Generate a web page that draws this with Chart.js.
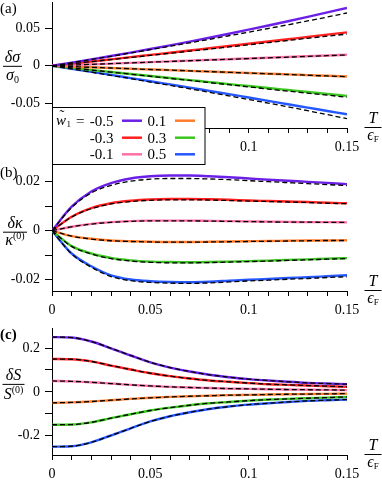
<!DOCTYPE html>
<html>
<head>
<meta charset="utf-8">
<script src="https://cdn.jsdelivr.net/npm/chart.js@4.4.1/dist/chart.umd.min.js"></script>
<style>
  html, body { margin: 0; padding: 0; background: #fff; }
  #wrap { position: relative; width: 382px; height: 481px; overflow: hidden; }
  canvas { position: absolute; left: 0; }
</style>
</head>
<body>
<div id="wrap">
  <canvas id="panelA" width="382" height="170" style="top:0; z-index:3"></canvas>
  <canvas id="panelB" width="382" height="160" style="top:160px; z-index:2"></canvas>
  <canvas id="panelC" width="382" height="161" style="top:320px; z-index:1"></canvas>
</div>
<script>
// temperature T/eF
const temps = [0, 0.01, 0.02, 0.03, 0.04, 0.05, 0.06, 0.07, 0.08, 0.09, 0.1, 0.11, 0.12, 0.13, 0.14, 0.15];
const couplings = ['-0.5', '-0.3', '-0.1', '0.1', '0.3', '0.5'];
const lineColors = ['#6c1fe6', '#ff2020', '#ff70a8', '#ff7d2c', '#3cc620', '#2457ff'];

// (a) d sigma / sigma0 : full (solid) and approx (dashed)
const sigma_m05 = [0, 0.0042, 0.0086, 0.0131, 0.0177, 0.0225, 0.0274, 0.0324, 0.0376, 0.0429, 0.0484, 0.054, 0.0597, 0.0655, 0.0715, 0.0776];
const sigma_m03 = [0, 0.0029, 0.0058, 0.0087, 0.0116, 0.0146, 0.0175, 0.0205, 0.0235, 0.0265, 0.0295, 0.0325, 0.0356, 0.0387, 0.0418, 0.0448];
const sigma_m01 = [0, 0.001, 0.002, 0.003, 0.004, 0.0049, 0.0059, 0.0069, 0.0079, 0.0089, 0.0099, 0.0109, 0.0119, 0.0129, 0.0139, 0.0148];
const sigma_p01 = [0, -0.001, -0.002, -0.003, -0.0039, -0.0049, -0.0058, -0.0068, -0.0077, -0.0087, -0.0096, -0.0106, -0.0115, -0.0125, -0.0134, -0.0144];
const sigma_p03 = [0, -0.0028, -0.0056, -0.0083, -0.011, -0.0137, -0.0164, -0.0191, -0.0218, -0.0245, -0.0271, -0.0298, -0.0324, -0.035, -0.0377, -0.0403];
const sigma_p05 = [0, -0.004, -0.0081, -0.0122, -0.0164, -0.0206, -0.0249, -0.0292, -0.0336, -0.038, -0.0425, -0.047, -0.0515, -0.056, -0.0605, -0.065];
const sigmaApx_m05 = [0, 0.0042, 0.0085, 0.0128, 0.0172, 0.0217, 0.0262, 0.0308, 0.0355, 0.0403, 0.0451, 0.05, 0.055, 0.0601, 0.0654, 0.0708];
const sigmaApx_m03 = [0, 0.0028, 0.0056, 0.0084, 0.0112, 0.014, 0.0168, 0.0196, 0.0224, 0.0253, 0.0282, 0.0311, 0.034, 0.0369, 0.0397, 0.0425];
const sigmaApx_m01 = [0, 0.001, 0.002, 0.0029, 0.0039, 0.0049, 0.0058, 0.0068, 0.0078, 0.0087, 0.0097, 0.0107, 0.0116, 0.0126, 0.0136, 0.0145];
const sigmaApx_p01 = [0, -0.001, -0.002, -0.0029, -0.0039, -0.0049, -0.0058, -0.0068, -0.0078, -0.0087, -0.0097, -0.0107, -0.0116, -0.0126, -0.0136, -0.0145];
const sigmaApx_p03 = [0, -0.0028, -0.0056, -0.0084, -0.0112, -0.014, -0.0168, -0.0196, -0.0224, -0.0253, -0.0282, -0.0311, -0.034, -0.0366, -0.0393, -0.042];
const sigmaApx_p05 = [0, -0.0042, -0.0085, -0.0128, -0.0172, -0.0217, -0.0262, -0.0308, -0.0355, -0.0403, -0.0451, -0.05, -0.055, -0.0601, -0.0654, -0.0708];

// (b) d kappa / kappa0
const kappa_m05 = [0, 0.0098, 0.016, 0.0194, 0.0213, 0.0222, 0.0225, 0.0225, 0.0222, 0.0218, 0.0213, 0.0208, 0.0204, 0.0199, 0.0195, 0.019];
const kappa_m03 = [0, 0.0057, 0.0092, 0.0112, 0.0122, 0.0127, 0.0129, 0.0129, 0.0128, 0.0126, 0.0123, 0.0121, 0.0119, 0.0117, 0.0114, 0.0112];
const kappa_m01 = [0, 0.0016, 0.0028, 0.0035, 0.0039, 0.0041, 0.0041, 0.0041, 0.004, 0.0039, 0.0038, 0.0037, 0.0036, 0.0035, 0.0035, 0.0034];
const kappa_p01 = [0, -0.0022, -0.0033, -0.004, -0.0043, -0.0045, -0.0046, -0.0046, -0.0045, -0.0044, -0.0043, -0.0042, -0.0041, -0.004, -0.004, -0.0039];
const kappa_p03 = [0, -0.0063, -0.0093, -0.0111, -0.0121, -0.0126, -0.0128, -0.0129, -0.0128, -0.0126, -0.0124, -0.0122, -0.0119, -0.0117, -0.0114, -0.0112];
const kappa_p05 = [0, -0.0093, -0.0145, -0.0182, -0.0199, -0.0206, -0.0209, -0.021, -0.0208, -0.0204, -0.02, -0.0197, -0.0193, -0.019, -0.0186, -0.0182];
const kappaApx_m05 = [0, 0.0095, 0.0154, 0.0185, 0.0202, 0.021, 0.0213, 0.0213, 0.0211, 0.0208, 0.0204, 0.02, 0.0196, 0.0192, 0.0188, 0.0184];
const kappaApx_m03 = [0, 0.0056, 0.009, 0.0109, 0.0119, 0.0124, 0.0126, 0.0126, 0.0125, 0.0123, 0.0121, 0.0119, 0.0117, 0.0115, 0.0112, 0.011];
const kappaApx_m01 = [0, 0.0016, 0.0027, 0.0034, 0.0038, 0.004, 0.004, 0.004, 0.0039, 0.0038, 0.0037, 0.0036, 0.0035, 0.0035, 0.0034, 0.0034];
const kappaApx_p01 = [0, -0.0022, -0.0034, -0.0041, -0.0044, -0.0046, -0.0047, -0.0047, -0.0046, -0.0045, -0.0044, -0.0043, -0.0042, -0.0041, -0.004, -0.004];
const kappaApx_p03 = [0, -0.0064, -0.0095, -0.0114, -0.0124, -0.0129, -0.0131, -0.0131, -0.013, -0.0128, -0.0126, -0.0124, -0.0121, -0.0119, -0.0116, -0.0114];
const kappaApx_p05 = [0, -0.0095, -0.0149, -0.0187, -0.0204, -0.0211, -0.0214, -0.0215, -0.0213, -0.0209, -0.0205, -0.0202, -0.0198, -0.0195, -0.0191, -0.0188];

// (c) dS / S0 (approximation lies on top of the full curves)
const seebeck_m05 = [0.25, 0.248, 0.23, 0.199, 0.166, 0.135, 0.111, 0.093, 0.078, 0.067, 0.058, 0.052, 0.046, 0.041, 0.038, 0.035];
const seebeck_m03 = [0.15, 0.149, 0.139, 0.12, 0.102, 0.085, 0.072, 0.061, 0.052, 0.046, 0.04, 0.035, 0.032, 0.029, 0.026, 0.023];
const seebeck_m01 = [0.05, 0.048, 0.044, 0.038, 0.032, 0.027, 0.023, 0.02, 0.0175, 0.015, 0.0137, 0.012, 0.0107, 0.0099, 0.009, 0.008];
const seebeck_p01 = [-0.05, -0.048, -0.044, -0.038, -0.032, -0.027, -0.023, -0.02, -0.0175, -0.015, -0.0137, -0.012, -0.0107, -0.0099, -0.009, -0.008];
const seebeck_p03 = [-0.15, -0.149, -0.139, -0.12, -0.102, -0.085, -0.072, -0.061, -0.052, -0.046, -0.04, -0.035, -0.032, -0.029, -0.026, -0.023];
const seebeck_p05 = [-0.25, -0.248, -0.23, -0.199, -0.166, -0.135, -0.111, -0.093, -0.078, -0.067, -0.058, -0.052, -0.046, -0.041, -0.038, -0.035];

const serif = '"Liberation Serif", "Times New Roman", serif';
const it16 = 'italic 16px ' + serif;

function makeDatasets(solid, dashed) {
  const sets = [];
  solid.forEach((vals, i) => sets.push({
    data: temps.map((t, k) => ({ x: t, y: vals[k] })),
    borderColor: lineColors[i], borderWidth: 2.4, order: 2
  }));
  dashed.forEach(vals => sets.push({
    data: temps.map((t, k) => ({ x: t, y: vals[k] })),
    borderColor: '#000', borderWidth: 1.3, borderDash: [5, 3], order: 1
  }));
  return sets;
}

// draw pieces of text side by side, centred on cx
function drawRun(ctx, parts, cx, baseY) {
  let w = 0;
  parts.forEach(p => { ctx.font = p.font; p.w = ctx.measureText(p.text).width; w += p.w; });
  let x = cx - w / 2;
  parts.forEach(p => { ctx.font = p.font; ctx.fillText(p.text, x, baseY + (p.dy || 0)); x += p.w; });
}

function drawFrac(ctx, cx, lineY, halfW, num, den, numBase, denBase) {
  ctx.save();
  ctx.fillStyle = '#000';
  ctx.textAlign = 'left';
  ctx.textBaseline = 'alphabetic';
  drawRun(ctx, num, cx, lineY + numBase);
  drawRun(ctx, den, cx, lineY + denBase);
  ctx.strokeStyle = '#000';
  ctx.lineWidth = 1;
  ctx.beginPath();
  ctx.moveTo(cx - halfW, lineY + 0.5);
  ctx.lineTo(cx + halfW, lineY + 0.5);
  ctx.stroke();
  ctx.restore();
}

function drawXTitle(chart) {
  const ctx = chart.ctx;
  const y = chart.chartArea.bottom;
  drawFrac(ctx, 373, y - 1, 8.5,
    [{ text: 'T', font: it16 }],
    [{ text: 'ϵ', font: it16 }, { text: 'F', font: '9px ' + serif, dy: 2 }], -4, 13);
}

function drawPanelTag(ctx, text, y, bold) {
  ctx.save();
  ctx.fillStyle = '#000';
  ctx.font = (bold ? 'bold ' : '') + '15px ' + serif;
  ctx.textAlign = 'left';
  ctx.textBaseline = 'alphabetic';
  ctx.fillText(text, 0, y);
  ctx.restore();
}

function drawLegend(ctx) {
  ctx.save();
  ctx.fillStyle = '#fff';
  ctx.fillRect(52.5, 107.5, 152.5, 57);
  ctx.strokeStyle = '#000';
  ctx.lineWidth = 1;
  ctx.strokeRect(52.5, 107.5, 152.5, 57);
  const rows = [120.7, 137.7, 154.3];
  ctx.fillStyle = '#000';
  ctx.textBaseline = 'alphabetic';
  // w~_1 =
  ctx.font = 'italic 15px ' + serif;
  ctx.textAlign = 'left';
  ctx.fillText('w', 56, rows[0] + 4);
  ctx.font = '15px ' + serif;
  ctx.textAlign = 'center';
  ctx.fillText('˜', 62, rows[0] - 0.5);
  ctx.textAlign = 'left';
  ctx.font = '9px ' + serif;
  ctx.fillText('1', 66.5, rows[0] + 6);
  ctx.font = '15px ' + serif;
  ctx.fillText('=', 76, rows[0] + 5);
  couplings.forEach((c, i) => {
    const col = Math.floor(i / 3), r = i % 3;
    const y = rows[r];
    ctx.fillStyle = '#000';
    ctx.font = '15px ' + serif;
    if (col === 0) { ctx.textAlign = 'right'; ctx.fillText(c, 113.5, y + 5); }
    else { ctx.textAlign = 'left'; ctx.fillText(c, 147.5, y + 5); }
    const x0 = col === 0 ? 122 : 175;
    ctx.strokeStyle = lineColors[i];
    ctx.lineWidth = 2.5;
    ctx.beginPath();
    ctx.moveTo(x0, y);
    ctx.lineTo(x0 + 20, y);
    ctx.stroke();
  });
  ctx.restore();
}

function tickFont() { return { family: serif, size: 14 }; }

function makeOptions(yMin, yMax, yStep, yLabel, topPad, xAxisHeight, xFirstLabel) {
  return {
    responsive: false,
    animation: false,
    devicePixelRatio: 1,
    layout: { padding: { top: topPad, right: 35, left: 0, bottom: 0 } },
    elements: {
      point: { radius: 0 },
      line: { cubicInterpolationMode: 'monotone', fill: false }
    },
    plugins: { legend: { display: false }, tooltip: { enabled: false } },
    scales: {
      x: {
        type: 'linear', min: 0, max: 0.15,
        border: { display: true, color: '#000', width: 1 },
        grid: { drawOnChartArea: false, drawTicks: true, tickLength: 5, tickColor: '#000' },
        ticks: {
          stepSize: 0.01, autoSkip: false, maxRotation: 0, includeBounds: false,
          padding: 6, color: '#000', font: tickFont(),
          callback: v => {
            const k = Math.round(v * 100);
            return (k % 5 === 0 && k >= xFirstLabel) ? String(k / 100) : '';
          }
        },
        afterFit: s => { s.height = xAxisHeight; s.paddingLeft = 0; s.paddingRight = 0; }
      },
      y: {
        type: 'linear', min: yMin, max: yMax,
        border: { display: true, color: '#000', width: 1 },
        grid: { drawOnChartArea: false, drawTicks: true, tickLength: 7, tickColor: '#000' },
        ticks: {
          stepSize: yStep, autoSkip: false, includeBounds: false,
          padding: 5, color: '#000', font: tickFont(), callback: yLabel
        },
        afterFit: s => { s.width = 52; s.paddingTop = 0; s.paddingBottom = 0; }
      }
    }
  };
}

// panel (a); the legend hides the first x labels
new Chart(document.getElementById('panelA'), {
  type: 'line',
  data: {
    datasets: makeDatasets(
      [sigma_m05, sigma_m03, sigma_m01, sigma_p01, sigma_p03, sigma_p05],
      [sigmaApx_m05, sigmaApx_m03, sigmaApx_m01, sigmaApx_p01, sigmaApx_p03, sigmaApx_p05])
  },
  options: makeOptions(-0.0833, 0.0855, 0.05, v => String(Math.round(v * 100) / 100), 2, 42, 10),
  plugins: [{
    id: 'decoA',
    afterDraw(chart) {
      const ctx = chart.ctx;
      const zero = chart.scales.y.getPixelForValue(0);
      drawFrac(ctx, 12.5, zero, 9.5,
        [{ text: 'δσ', font: it16 }],
        [{ text: 'σ', font: it16 }, { text: '0', font: '10px ' + serif, dy: 3 }], -3.5, 14);
      drawXTitle(chart);
      drawPanelTag(ctx, '(a)', 13, false);
      drawLegend(ctx);
    }
  }]
});

// panel (b)
new Chart(document.getElementById('panelB'), {
  type: 'line',
  data: {
    datasets: makeDatasets(
      [kappa_m05, kappa_m03, kappa_m01, kappa_p01, kappa_p03, kappa_p05],
      [kappaApx_m05, kappaApx_m03, kappaApx_m01, kappaApx_p01, kappaApx_p03, kappaApx_p05])
  },
  options: makeOptions(-0.0246, 0.0268, 0.01, v => {
    const k = Math.round(v * 100);
    return k % 2 === 0 ? String(k / 100) : '';
  }, 5, 29, 0),
  plugins: [{
    id: 'decoB',
    afterDraw(chart) {
      const ctx = chart.ctx;
      const zero = chart.scales.y.getPixelForValue(0);
      drawFrac(ctx, 15, zero + 1, 12,
        [{ text: 'δκ', font: it16 }],
        [{ text: 'κ', font: it16 }, { text: '(0)', font: '10px ' + serif, dy: -6 }], -3.5, 13);
      drawXTitle(chart);
      drawPanelTag(ctx, '(b)', 17, false);
    }
  }]
});

// panel (c)
const seebeckAll = [seebeck_m05, seebeck_m03, seebeck_m01, seebeck_p01, seebeck_p03, seebeck_p05];
new Chart(document.getElementById('panelC'), {
  type: 'line',
  data: { datasets: makeDatasets(seebeckAll, seebeckAll) },
  options: makeOptions(-0.288, 0.2915, 0.1, v => {
    const k = Math.round(v * 10);
    return k % 2 === 0 ? String(k / 10) : '';
  }, 8, 26, 0),
  plugins: [{
    id: 'decoC',
    afterDraw(chart) {
      const ctx = chart.ctx;
      const zero = chart.scales.y.getPixelForValue(0);
      drawFrac(ctx, 13.5, zero - 8, 11,
        [{ text: 'δS', font: it16 }],
        [{ text: 'S', font: it16 }, { text: '(0)', font: '10px ' + serif, dy: -6 }], -4, 15);
      drawXTitle(chart);
      drawPanelTag(ctx, '(c)', 19, true);
    }
  }]
});
</script>
</body>
</html>
